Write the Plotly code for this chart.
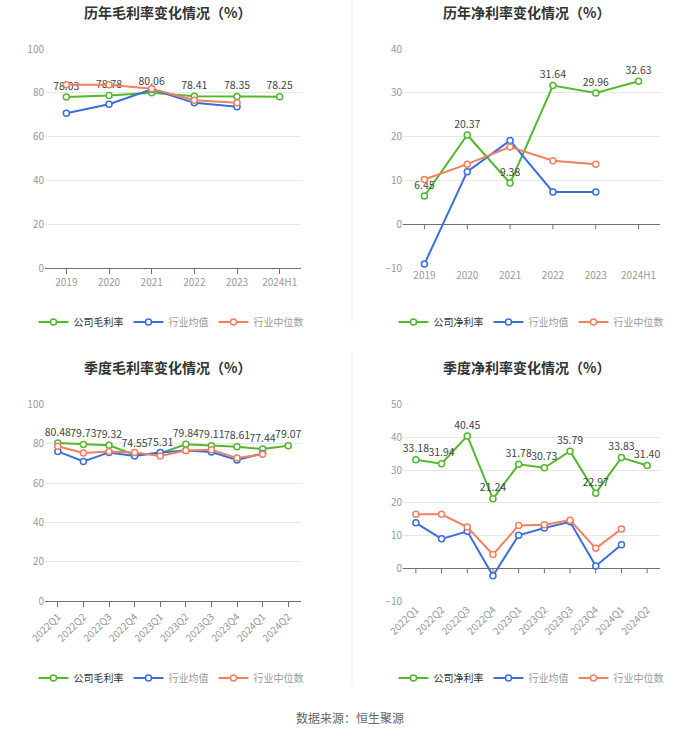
import plotly.graph_objects as go

years = ["2019", "2020", "2021", "2022", "2023", "2024H1"]
quarters = ["2022Q1", "2022Q2", "2022Q3", "2022Q4", "2023Q1", "2023Q2",
            "2023Q3", "2023Q4", "2024Q1", "2024Q2"]

gm_company = [78.03, 78.78, 80.06, 78.41, 78.35, 78.25]
gm_avg = [70.7, 74.8, 81.6, 75.4, 73.6]
gm_median = [83.7, 83.7, 81.8, 76.6, 75.5]

nm_company = [6.45, 20.37, 9.38, 31.64, 29.96, 32.63]
nm_avg = [-9.1, 12.0, 19.1, 7.35, 7.35]
nm_median = [10.2, 13.7, 17.65, 14.5, 13.7]

qgm_company = [80.48, 79.73, 79.32, 74.55, 75.31, 79.84, 79.11, 78.61, 77.44, 79.07]
qgm_avg = [76.2, 71.1, 75.7, 73.9, 75.6, 76.7, 75.9, 71.8, 75.2]
qgm_median = [78.8, 75.4, 76.1, 75.6, 73.9, 76.7, 77.1, 72.8, 74.7]

qnm_company = [33.18, 31.94, 40.45, 21.24, 31.78, 30.73, 35.79, 22.97, 33.83, 31.40]
qnm_avg = [13.9, 9.0, 11.3, -2.3, 10.1, 12.3, 14.2, 0.7, 7.2]
qnm_median = [16.5, 16.5, 12.6, 4.2, 13.1, 13.3, 14.7, 6.1, 12.0]

titles = ["历年毛利率变化情况（%）", "历年净利率变化情况（%）",
          "季度毛利率变化情况（%）", "季度净利率变化情况（%）"]
company_names = ["公司毛利率", "公司净利率", "公司毛利率", "公司净利率"]
avg_name = "行业均值"
median_name = "行业中位数"

GREEN = "#52b92c"
BLUE = "#3a6edc"
ORANGE = "#f0805e"
FONT = "Noto Sans CJK SC"
W, H = 700, 734

fig = go.Figure()

panels = [
    (years, gm_company, gm_avg, gm_median, "x", "y", "legend"),
    (years, nm_company, nm_avg, nm_median, "x2", "y2", "legend2"),
    (quarters, qgm_company, qgm_avg, qgm_median, "x3", "y3", "legend3"),
    (quarters, qnm_company, qnm_avg, qnm_median, "x4", "y4", "legend4"),
]

for i, (cats, comp, avg, med, xa, ya, lg) in enumerate(panels):
    fig.add_trace(go.Scatter(
        x=cats, y=comp, name=company_names[i], mode="lines+markers+text",
        line=dict(color=GREEN, width=2),
        marker=dict(symbol="circle", size=6, color="white", line=dict(color=GREEN, width=1.5)),
        texttemplate="%{y:.2f}", textposition="top center",
        textfont=dict(size=10.5, color="#444", family=FONT),
        xaxis=xa, yaxis=ya, legend=lg, cliponaxis=False))
    fig.add_trace(go.Scatter(
        x=cats[:len(avg)], y=avg, name='<span style="color:#999">' + avg_name + '</span>',
        mode="lines+markers",
        line=dict(color=BLUE, width=2),
        marker=dict(symbol="circle", size=6, color="white", line=dict(color=BLUE, width=1.5)),
        xaxis=xa, yaxis=ya, legend=lg, cliponaxis=False))
    fig.add_trace(go.Scatter(
        x=cats[:len(med)], y=med, name='<span style="color:#999">' + median_name + '</span>',
        mode="lines+markers",
        line=dict(color=ORANGE, width=2),
        marker=dict(symbol="circle", size=6, color="white", line=dict(color=ORANGE, width=1.5)),
        xaxis=xa, yaxis=ya, legend=lg, cliponaxis=False))

def px_x(a, b):
    return [a / W, b / W]

def px_y(top, bottom):
    return [1 - bottom / H, 1 - top / H]

tickfont = dict(size=10, color="#999", family=FONT)
grid = "#e8e8e8"
axcol = "#6e7079"

def xaxis(domain, anchor, n, showline, angle=0):
    return dict(domain=domain, anchor=anchor, type="category", range=[-0.5, n - 0.5],
                showgrid=False, zeroline=False, showline=showline, linecolor=axcol,
                linewidth=1, ticks="outside" if showline else "", ticklen=5,
                tickcolor=axcol, tickfont=tickfont, tickangle=angle, fixedrange=True,
                automargin=False)

def yaxis(domain, anchor, rng, dtick, zeroline):
    return dict(domain=domain, anchor=anchor, range=rng, dtick=dtick, tick0=0,
                showgrid=True, gridcolor=grid, gridwidth=1, zeroline=zeroline,
                zerolinecolor=axcol, zerolinewidth=1, showline=False,
                tickfont=tickfont, ticks="", fixedrange=True, automargin=False)

top_y = px_y(49, 268)
bot_y = px_y(404.7, 601)
left_x = px_x(45, 301)
right_x = px_x(403, 660)

fig.update_layout(
    xaxis=xaxis(left_x, "y", 6, True),
    yaxis=yaxis(top_y, "x", [0, 100], 20, False),
    xaxis2=xaxis(right_x, "y2", 6, False),
    yaxis2=yaxis(top_y, "x2", [-10, 40], 10, True),
    xaxis3=xaxis(left_x, "y3", 10, True, -45),
    yaxis3=yaxis(bot_y, "x3", [0, 100], 20, False),
    xaxis4=xaxis(right_x, "y4", 10, False, -45),
    yaxis4=yaxis(bot_y, "x4", [-10, 50], 10, True),
)

legend_common = dict(orientation="h", xanchor="center", yanchor="middle",
                     font=dict(size=10, color="#333", family=FONT),
                     bgcolor="rgba(0,0,0,0)", itemclick=False, itemdoubleclick=False,
                     itemwidth=30)
fig.update_layout(
    legend=dict(x=171 / W, y=1 - 322 / H, **legend_common),
    legend2=dict(x=531 / W, y=1 - 322 / H, **legend_common),
    legend3=dict(x=171 / W, y=1 - 678 / H, **legend_common),
    legend4=dict(x=531 / W, y=1 - 678 / H, **legend_common),
)

ann = []
for t, (cx, cy) in zip(titles, [(167, 12), (526, 12), (167, 367), (526, 367)]):
    ann.append(dict(text="<b>" + t + "</b>", x=cx / W, y=1 - cy / H, xref="paper", yref="paper",
                    showarrow=False, xanchor="center", yanchor="middle",
                    font=dict(size=14, color="#333", family=FONT)))
ann.append(dict(text="数据来源：恒生聚源", x=350 / W, y=1 - 717 / H, xref="paper", yref="paper",
                showarrow=False, xanchor="center", yanchor="middle",
                font=dict(size=12, color="#666", family=FONT)))

shapes = [
    dict(type="line", xref="paper", yref="paper", x0=352 / W, x1=352 / W,
         y0=1 - 0 / H, y1=1 - 322 / H, line=dict(color="#f0f0f0", width=1.5)),
    dict(type="line", xref="paper", yref="paper", x0=352 / W, x1=352 / W,
         y0=1 - 352 / H, y1=1 - 686 / H, line=dict(color="#f0f0f0", width=1.5)),
]
for xa, ya, n in [("x2", "y2", 6), ("x4", "y4", 10)]:
    for k in range(n):
        shapes.append(dict(type="line", xref=xa, yref=ya, x0=k, x1=k,
                           ysizemode="pixel", yanchor=0, y0=0, y1=-5,
                           line=dict(color=axcol, width=1)))

fig.update_layout(
    annotations=ann, shapes=shapes,
    width=W, height=H, margin=dict(l=0, r=0, t=0, b=0, autoexpand=False),
    paper_bgcolor="white", plot_bgcolor="white",
    font=dict(family=FONT), hovermode=False,
)

fig.write_html("out.html", config={"displayModeBar": False},
               post_script="document.body.style.margin='0';document.body.style.overflow='hidden';")
